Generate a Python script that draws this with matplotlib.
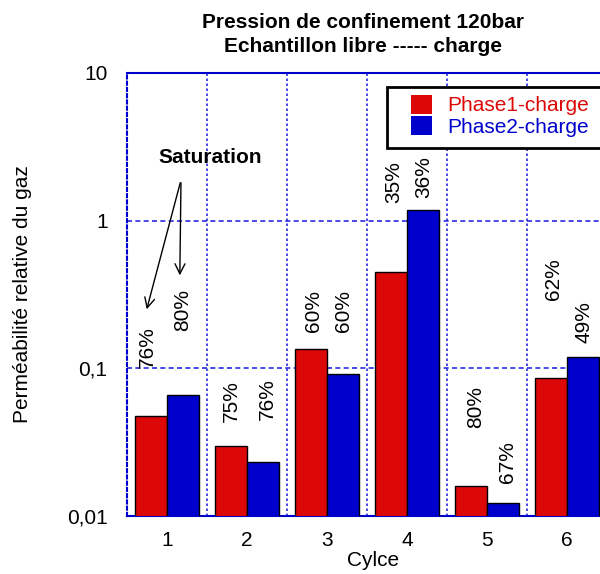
import matplotlib
matplotlib.use("Agg")
import matplotlib.pyplot as plt
from matplotlib.patches import Rectangle
import numpy as np

plt.rcParams['font.family'] = ['Liberation Sans', 'DejaVu Sans']

cycles = [1, 2, 3, 4, 5, 6]
phase1 = [0.0475, 0.0298, 0.136, 0.451, 0.0160, 0.0855]
phase2 = [0.066, 0.0231, 0.0915, 1.19, 0.0122, 0.119]
sat1_labels = ["76%", "75%", "60%", "35%", "80%", "62%"]
sat2_labels = ["80%", "76%", "60%", "36%", "67%", "49%"]
sat1_label_y = [0.100, 0.0432, 0.176, 1.315, 0.0394, 0.29]
sat2_label_y = [0.180, 0.0447, 0.176, 1.42, 0.0167, 0.148]
sat1_label_dx = [-0.25, -0.20, -0.175, -0.16, -0.14, -0.175]
sat2_label_dx = [0.19, 0.26, 0.20, 0.21, 0.26, 0.21]
ytick_vals = [0.01, 0.1, 1, 10]
ytick_labels = ["0,01", "0,1", "1", "10"]

RED = "#DC0808"
BLUE = "#0000CC"
GRID = "#2A2AE0"

fig = plt.figure(figsize=(6.0, 5.74), dpi=100)
ax = fig.add_axes([127/600, 58/574, 480/600, 443/574])
ax.set_yscale('log')
ax.set_xlim(0.5, 6.5)
ax.set_ylim(0.01, 10)

x = np.array(cycles, dtype=float)
w = 0.4
ax.bar(x - w/2, phase1, width=w, color=RED, edgecolor='black', linewidth=1.0,
       label="Phase1-charge", zorder=3)
ax.bar(x + w/2, phase2, width=w, color=BLUE, edgecolor='black', linewidth=1.0,
       label="Phase2-charge", zorder=3)

# grid
for b in np.arange(1.5, 6.5, 1.0):
    ax.axvline(b, color=GRID, linestyle=(0, (1.5, 1.5)), linewidth=1.2, zorder=1)
for v in [0.1, 1]:
    ax.axhline(v, color=GRID, linestyle=(0, (3, 2)), linewidth=1.2, zorder=1)

for sp in ['top', 'bottom', 'right']:
    ax.spines[sp].set_color(BLUE)
    ax.spines[sp].set_linewidth(1.5)
ax.spines['left'].set_color(BLUE)
ax.spines['left'].set_linewidth(1.5)
ax.spines['left'].set_linestyle((0, (1.5, 1.5)))

ax.set_xticks(cycles)
ax.set_xticklabels([str(c) for c in cycles], fontsize=15)
ax.set_yticks(ytick_vals)
ax.set_yticklabels(ytick_labels, fontsize=15)
ax.yaxis.set_minor_locator(matplotlib.ticker.NullLocator())
ax.tick_params(axis='x', length=0, pad=11)
ax.tick_params(axis='y', length=0, pad=14)

# saturation labels
for i, c in enumerate(cycles):
    ax.text(c + sat1_label_dx[i], sat1_label_y[i], sat1_labels[i], rotation=90,
            ha='center', va='bottom', fontsize=15, zorder=4)
    ax.text(c + sat2_label_dx[i], sat2_label_y[i], sat2_labels[i], rotation=90,
            ha='center', va='bottom', fontsize=15, zorder=4)

ax.text(0.173, 0.81, "Saturation", transform=ax.transAxes, ha='center', va='center',
        fontsize=15, fontweight='bold')
ax.annotate("", xy=(0.0396, 0.4605), xytext=(0.1125, 0.7585), xycoords='axes fraction',
            arrowprops=dict(arrowstyle='->', color='black', lw=1.0, mutation_scale=18))
ax.annotate("", xy=(0.110, 0.537), xytext=(0.1125, 0.7585), xycoords='axes fraction',
            arrowprops=dict(arrowstyle='->', color='black', lw=1.0, mutation_scale=18))

# legend frame drawn separately
frame = Rectangle((387/600, 1 - 148/574), 220/600, 61/574, transform=fig.transFigure,
                  facecolor='white', edgecolor='black', linewidth=2.0, zorder=5)
fig.add_artist(frame)
leg = fig.legend(loc='upper left', bbox_to_anchor=(411/600, 1 - 95/574),
                 bbox_transform=fig.transFigure, fontsize=15, frameon=False,
                 borderaxespad=0, handlelength=1.0, handleheight=1.0,
                 handletextpad=0.75, labelspacing=0.05, borderpad=0)
leg.set_zorder(6)
for t, col in zip(leg.get_texts(), [RED, BLUE]):
    t.set_color(col)
for h in leg.legend_handles:
    h.set_edgecolor('none')

fig.text(23/600, 1 - 294.5/574, "Perméabilité relative du gaz", rotation=90,
         ha='center', va='center', fontsize=15)
fig.text(373/600, 1 - 560/574, "Cylce", ha='center', va='center', fontsize=15)
fig.text(363/600, 1 - 22/574, "Pression de confinement 120bar", ha='center', va='center',
         fontsize=15, fontweight='bold')
fig.text(363/600, 1 - 46/574, "Echantillon libre ----- charge", ha='center', va='center',
         fontsize=15, fontweight='bold')

fig.savefig("out.png", dpi=100)
